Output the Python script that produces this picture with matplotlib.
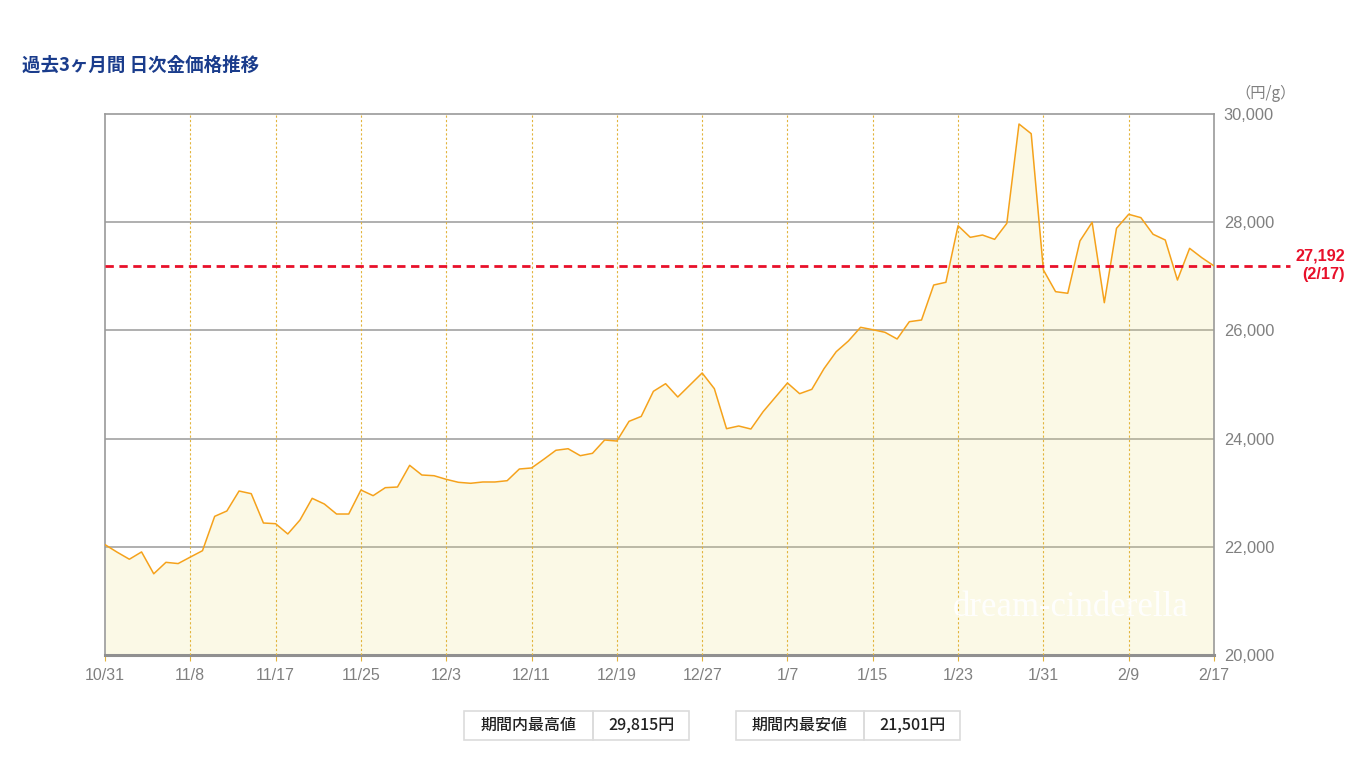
import numpy as np
import matplotlib
matplotlib.use("Agg")
import matplotlib.pyplot as plt
from matplotlib.patches import Rectangle

# ---- data ----
prices = [
    22040, 21900, 21770, 21905, 21501, 21713, 21690, 21810, 21928, 22563,
    22662, 23031, 22982, 22440, 22427, 22237, 22495, 22896, 22791, 22606,
    22606, 23050, 22945, 23093, 23105, 23506, 23327, 23314, 23247, 23192,
    23174, 23198, 23198, 23222, 23438, 23457, 23617, 23784, 23813, 23684,
    23728, 23974, 23955, 24319, 24410, 24874, 25015, 24769, 24991, 25213,
    24923, 24183, 24233, 24177, 24497, 24763, 25028, 24830, 24911, 25293,
    25606, 25804, 26057, 26013, 25965, 25841, 26161, 26192, 26839, 26889,
    27935, 27720, 27763, 27683, 27979, 29815, 29636, 27118, 26716, 26686,
    27653, 27998, 26512, 27887, 28146, 28084, 27777, 27671, 26931, 27517,
    27344, 27192,
]
tick_labels = ["10/31", "11/8", "11/17", "11/25", "12/3", "12/11", "12/19",
               "12/27", "1/7", "1/15", "1/23", "1/31", "2/9", "2/17"]
tick_step = 7
y_ticks = [20000, 22000, 24000, 26000, 28000, 30000]
latest_value = 27192
latest_label = "2/17"
max_value = 29815
min_value = 21501

title = "過去3ヶ月間 日次金価格推移"
unit = "（円/g）"

# ---- figure ----
W, H = 1360, 765
fig = plt.figure(figsize=(W / 100, H / 100), dpi=100)
plt.rcParams['font.family'] = ['Liberation Sans', 'Noto Sans CJK JP']
JP = ['Noto Sans CJK JP', 'DejaVu Sans']

L, R, T, B = 105, 1214, 114, 655
ax = fig.add_axes([L / W, 1 - B / H, (R - L) / W, (B - T) / H])

x = np.arange(len(prices))
tick_pos = x[::tick_step]

ax.set_xlim(x[0], x[-1])
ax.set_ylim(y_ticks[0], y_ticks[-1])

# horizontal grid
for yv in y_ticks[1:-1]:
    ax.axhline(yv, color='#9a9a9a', lw=1.1, zorder=1)
# vertical dotted grid
for xv in tick_pos[1:-1]:
    ax.axvline(xv, color='#e2b43c', lw=0.8, ls=(0, (2, 2)), zorder=4)

ax.fill_between(x, prices, y_ticks[0], color=(235/255, 225/255, 130/255),
                alpha=0.2, lw=0, zorder=2)
ax.plot(x, prices, color='#f5a21b', lw=1.1, zorder=5)

# latest value red dashed line
ext = (1290 - L) / (R - L)
ax.axhline(latest_value, xmin=0, xmax=ext, color='#e8102a', lw=2,
           ls=(0, (3, 2)), clip_on=False, zorder=6)

for s in ['left', 'top', 'right']:
    ax.spines[s].set_color('#9a9a9a')
    ax.spines[s].set_linewidth(1.2)
ax.spines['bottom'].set_color('#909090')
ax.spines['bottom'].set_linewidth(2.2)

ax.set_xticks(tick_pos)
ax.set_xticklabels(tick_labels)
ax.tick_params(axis='x', colors='#e2b43c', length=4, width=0.8, pad=5,
               labelcolor='#808080', labelsize=11.5)
ax.yaxis.tick_right()
ax.set_yticks(y_ticks)
ax.set_yticklabels([f"{v:,}" for v in y_ticks])
ax.tick_params(axis='y', length=0, pad=7, labelcolor='#808080', labelsize=11.8)
ax.set_facecolor('white')

# texts
fig.text(22 / W, 1 - 65 / H, title, family=JP, fontsize=13.3, fontweight='bold',
         color='#1a3c8c', ha='left', va='center')
fig.text(1266 / W, 1 - 93 / H, unit, family=JP, fontsize=11, color='#808080',
         ha='center', va='center')
fig.text(1345 / W, 1 - 256 / H, f"{latest_value:,}", fontsize=11.7, fontweight='bold',
         color='#e8102a', ha='right', va='center')
fig.text(1345 / W, 1 - 274 / H, f"({latest_label})", fontsize=11.7, fontweight='bold',
         color='#e8102a', ha='right', va='center')
fig.text(1071 / W, 1 - 608 / H, "dream-cinderella", family=['Liberation Serif'],
         fontsize=25, color='white', alpha=0.95, ha='center', va='center')

# summary boxes
def box(x0, xm, x1, y0, y1, label, value):
    for a, b in [(x0, xm), (xm, x1)]:
        fig.patches.append(Rectangle((a / W, 1 - y1 / H), (b - a) / W, (y1 - y0) / H,
                                     transform=fig.transFigure, fill=False,
                                     edgecolor='#dcdcdc', lw=1.2))
    yc = 1 - (y0 + y1) / 2 / H
    fig.text((x0 + xm) / 2 / W, yc, label, family=JP, fontsize=11.5, fontweight='medium',
             color='#222222', ha='center', va='center')
    fig.text((xm + x1) / 2 / W, yc, value, family=JP, fontsize=11.5, fontweight='medium',
             color='#222222', ha='center', va='center')

box(464, 593, 689, 711, 740, "期間内最高値", f"{max_value:,}円")
box(736, 864, 960, 711, 740, "期間内最安値", f"{min_value:,}円")

fig.savefig("out.png", dpi=100, facecolor='white')
